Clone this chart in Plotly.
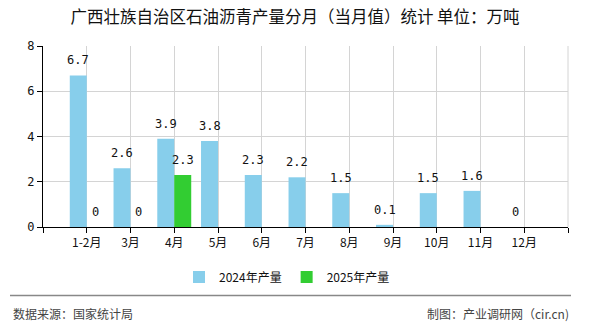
import plotly.graph_objects as go

# Monthly asphalt output, Guangxi (10k tonnes)
months = ["1-2月", "3月", "4月", "5月", "6月", "7月", "8月", "9月", "10月", "11月", "12月"]
output_2024 = [6.7, 2.6, 3.9, 3.8, 2.3, 2.2, 1.5, 0.1, 1.5, 1.6, 0]
output_2025 = [0, 0, 2.3, None, None, None, None, None, None, None, None]
series_names = ["2024年产量", "2025年产量"]
y_ticks = [0, 2, 4, 6, 8]

W, H = 590, 330
L, R, T, B = 43, 22, 46, 101
plot_w, plot_h = W - L - R, H - T - B

CJK = "Noto Sans CJK SC"
MONO = "DejaVu Sans Mono"
BAR_GAP = 0.224

def px_x(x):
    return (x - L) / plot_w

def px_y(y):
    return (H - B - y) / plot_h

xs = list(range(len(months)))
series = [(output_2024, series_names[0], "#87CEEB"),
          (output_2025, series_names[1], "#32CD32")]

fig = go.Figure()
for vals, name, color in series:
    fig.add_trace(go.Bar(x=xs, y=vals, name=name,
                         marker=dict(color=color, line=dict(width=0))))

# Value labels above each bar (bar centres follow the grouped layout)
bar_w = (1 - BAR_GAP) / len(series)
for k, (vals, _, _) in enumerate(series):
    shift = (k - (len(series) - 1) / 2) * bar_w
    for i, v in enumerate(vals):
        if v is None:
            continue
        fig.add_annotation(x=i + shift, y=v, text=f"{v:g}", showarrow=False,
                           yanchor="bottom", yshift=6,
                           font=dict(family=MONO, size=12, color="#111"))

grid_vals = list(range(-1, len(months) + 1))
grid_text = [""] + months + [""]

fig.update_layout(
    width=W, height=H, margin=dict(l=L, r=R, t=T, b=B),
    paper_bgcolor="white", plot_bgcolor="white",
    barmode="group", bargap=BAR_GAP, bargroupgap=0,
    font=dict(family=CJK, size=12, color="#111"),
    title=dict(text="广西壮族自治区石油沥青产量分月（当月值）统计 单位：万吨",
               x=0.5, xref="container", xanchor="center",
               y=1 - 17 / H, yref="container", yanchor="middle",
               font=dict(family=CJK, size=16.5, color="#111")),
    xaxis=dict(range=[-1, len(months)], tickmode="array",
               tickvals=grid_vals, ticktext=grid_text,
               showgrid=True, gridcolor="#d4d4d4", gridwidth=1,
               showline=True, linecolor="#000", linewidth=1,
               ticks="outside", ticklen=5, tickcolor="#000",
               tickfont=dict(family=CJK, size=12, color="#111"),
               zeroline=False, fixedrange=True),
    yaxis=dict(range=[0, 8], tickmode="array", tickvals=y_ticks,
               showgrid=True, gridcolor="#d4d4d4", gridwidth=1,
               showline=True, linecolor="#000", linewidth=1,
               ticks="outside", ticklen=5, tickcolor="#000",
               tickfont=dict(family=MONO, size=12, color="#111"),
               zeroline=False, fixedrange=True),
    legend=dict(orientation="h", xref="container", yref="container",
                x=287 / W, xanchor="center", y=1 - 277 / H, yanchor="middle",
                font=dict(family=CJK, size=12, color="#111"),
                itemwidth=30, traceorder="normal"),
    showlegend=True,
)

# Right-edge grid line and footer
fig.add_shape(type="line", xref="paper", yref="paper",
              x0=1, x1=1, y0=0, y1=1, line=dict(color="#d4d4d4", width=1))
fig.add_shape(type="line", xref="paper", yref="paper",
              x0=px_x(10), x1=px_x(571), y0=px_y(298), y1=px_y(298),
              line=dict(color="#888", width=1.5))
fig.add_annotation(text="数据来源：国家统计局", xref="paper", yref="paper",
                   x=px_x(11), y=px_y(316), xanchor="left", yanchor="middle",
                   showarrow=False, font=dict(family=CJK, size=12, color="#444"))
fig.add_annotation(text="制图：产业调研网（cir.cn)", xref="paper", yref="paper",
                   x=px_x(571), y=px_y(316), xanchor="right", yanchor="middle",
                   showarrow=False, font=dict(family=CJK, size=12, color="#444"))

fig.write_html("out.html")
